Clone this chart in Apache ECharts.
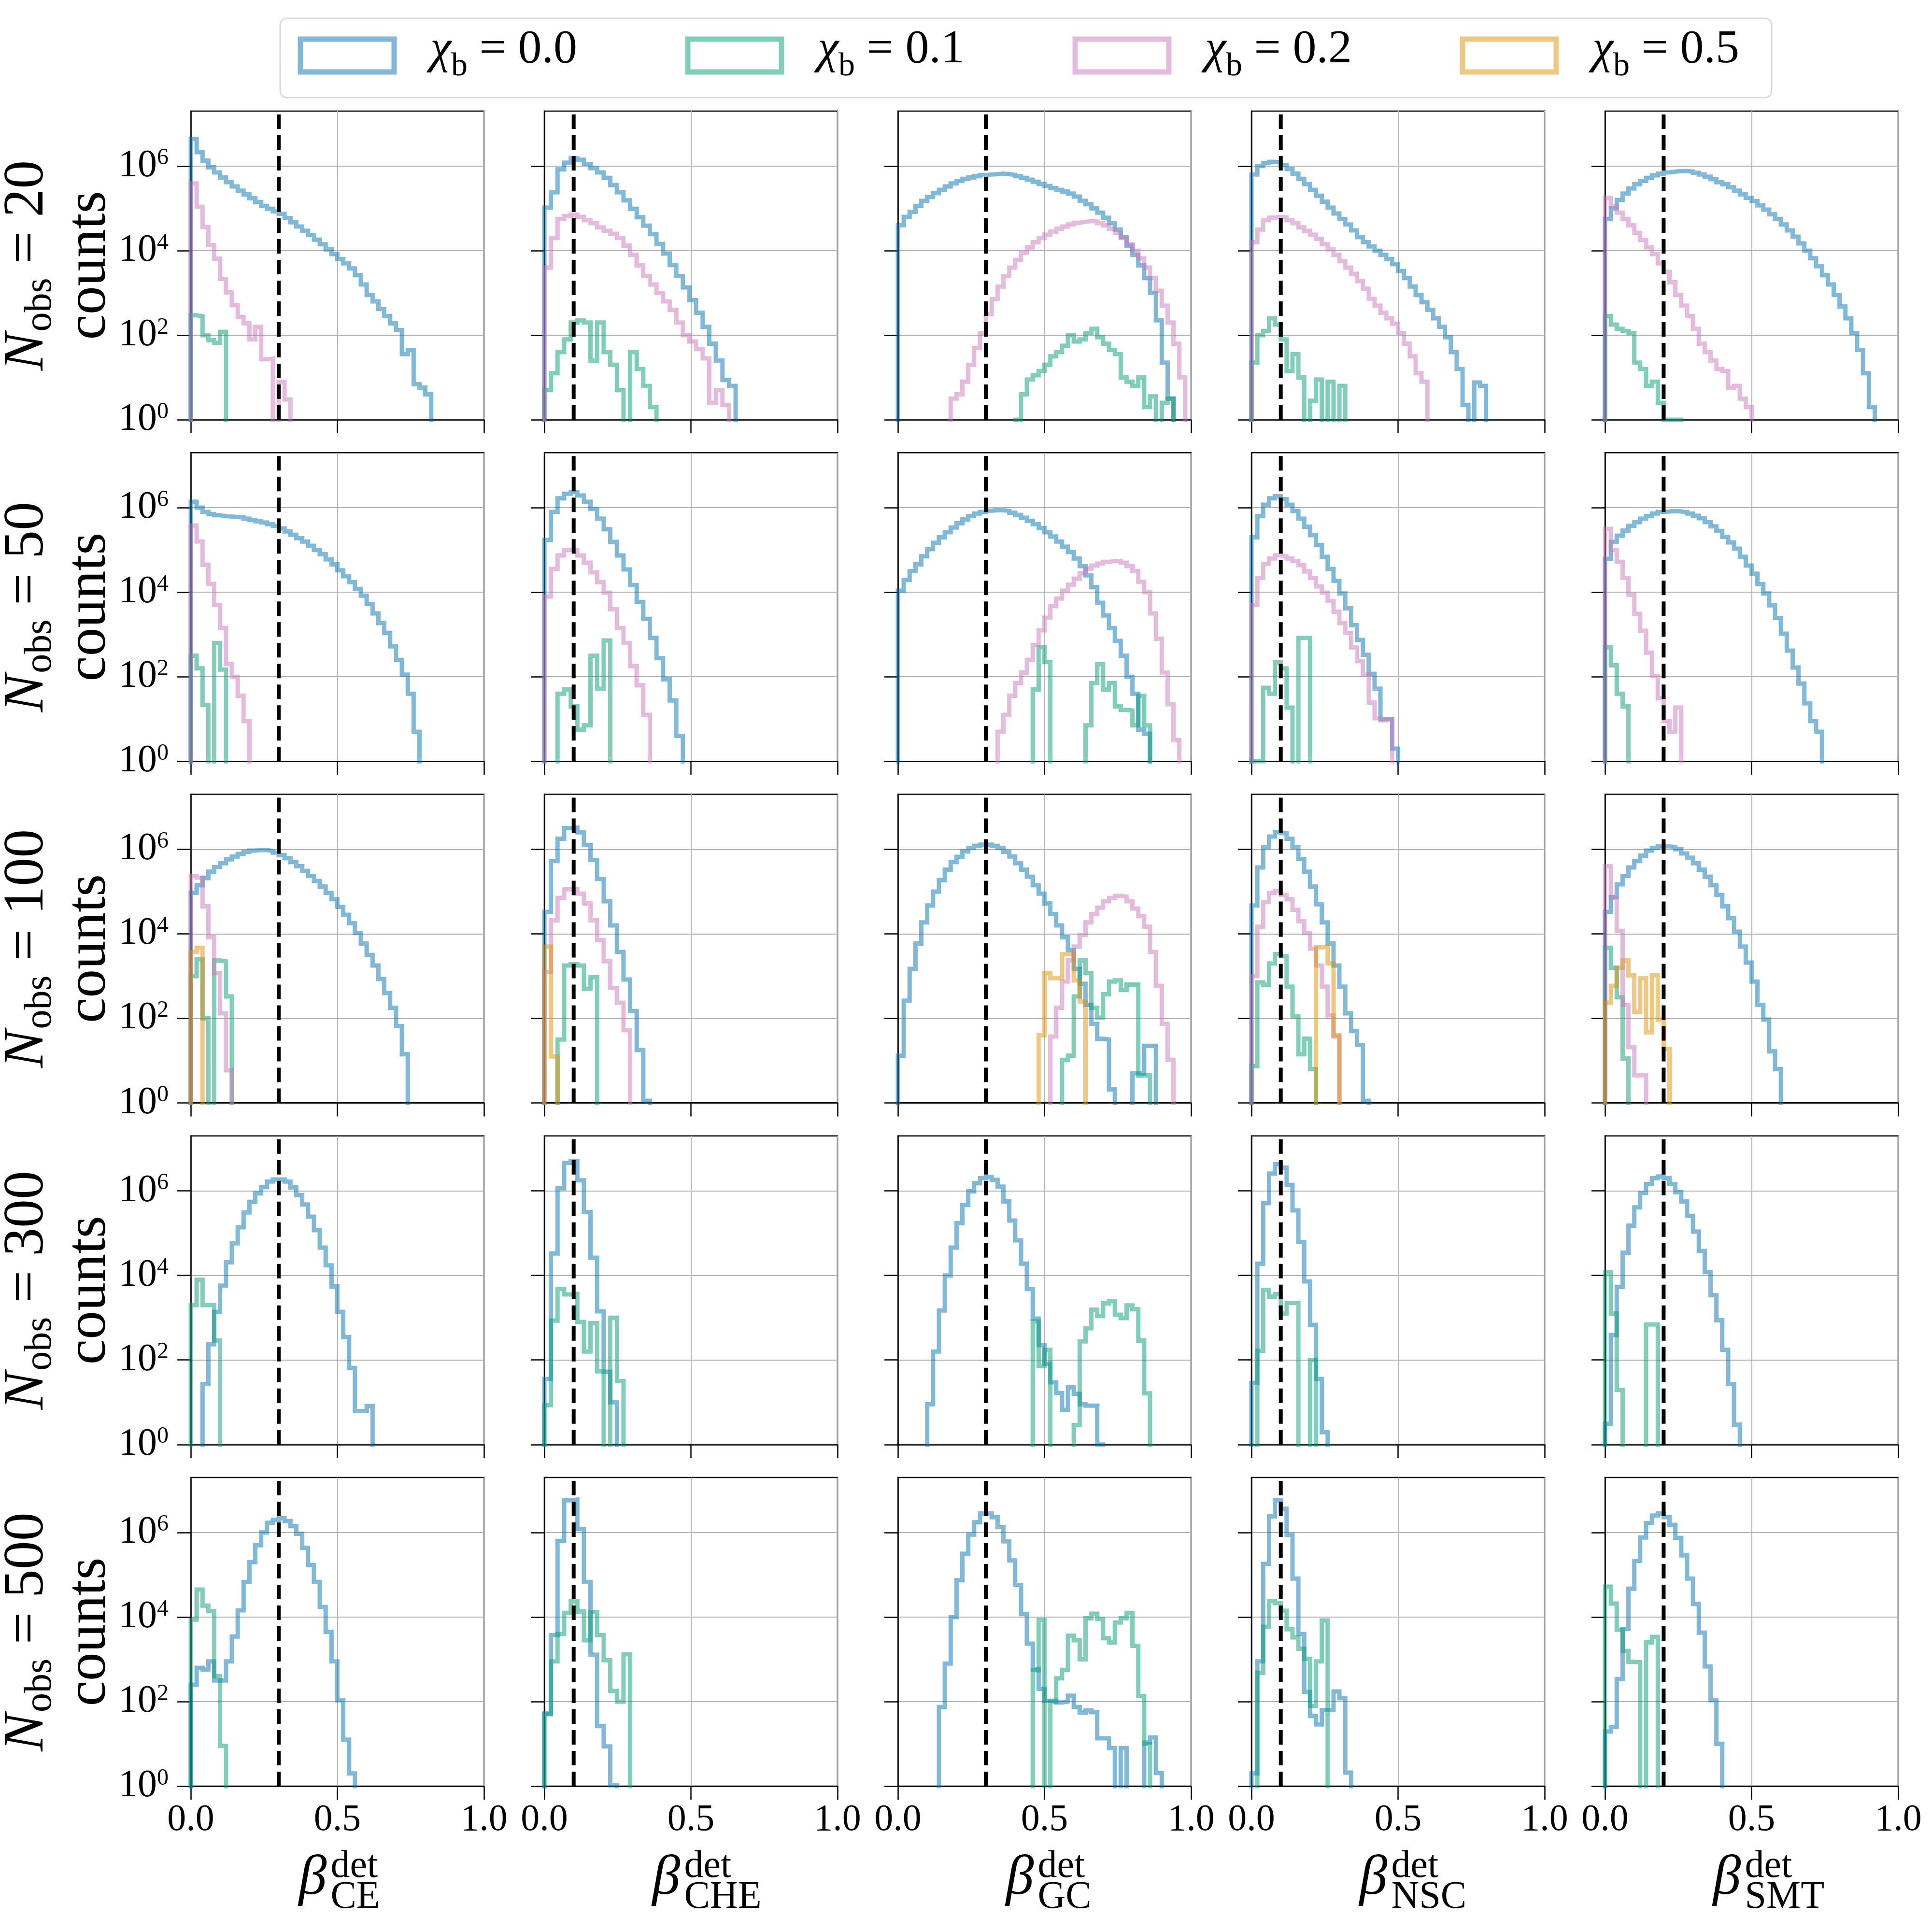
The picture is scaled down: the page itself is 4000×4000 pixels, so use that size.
<!DOCTYPE html>
<html>
<head>
<meta charset="utf-8"/>
<title>beta_det histograms</title>
<script src="https://cdn.jsdelivr.net/npm/echarts@6/dist/echarts.min.js"></script>
<style>
    html, body { margin: 0; padding: 0; background: #fff; }
    #main { width: 4000px; height: 4000px; }
</style>
</head>
<body>
<div id="main"></div>
<script type="text/javascript">
    // log10(counts) per bin, bin k covers [k*w, (k+1)*w]; _ = empty bin
    var _ = null;

    var detectors = ['CE', 'CHE', 'GC', 'NSC', 'SMT'];
    var nObs = [20, 50, 100, 300, 500];
    var chiValues = ['0.0', '0.1', '0.2', '0.5'];
    var trueBeta = [0.3, 0.1, 0.3, 0.1, 0.2];
    var binWidth = [0.02, 0.0225, 0.02, 0.02, 0.02];
    var yTicks = [1, 1e2, 1e4, 1e6];

    // N_obs = 20
    var ce20_x0 = [6.64, 6.33, 6.13, 5.97, 5.85, 5.73, 5.62, 5.52, 5.42, 5.33, 5.24, 5.15, 5.06, 4.99, 4.93, 4.87, 4.77, 4.67, 4.57, 4.47, 4.37, 4.26, 4.15, 4.03, 3.92, 3.80, 3.70, 3.58, 3.42, 3.20, 2.95, 2.80, 2.62, 2.45, 2.28, 2.12, 1.55, 1.65, 0.84, 0.76, 0.60];
    var ce20_x1 = [2.47, 2.45, 2.0, 1.88, 1.82, 2.08];
    var ce20_x2 = [5.59, 5.04, 4.56, 4.13, 3.81, 3.33, 3.01, 2.71, 2.43, 2.28, 1.9, 2.2, 1.43, 1.45, _, 0.9, 0.48];
    var che20_x0 = [5.02, 5.38, 5.92, 6.08, 6.18, 6.15, 6.05, 5.95, 5.85, 5.72, 5.55, 5.38, 5.19, 4.99, 4.79, 4.59, 4.39, 4.16, 3.93, 3.66, 3.40, 3.13, 2.83, 2.53, 2.20, 1.80, 1.40, 0.94, 0.80];
    var che20_x1 = [0.7, 1.1, 1.6, 1.9, 2.3, 2.35, 2.3, 1.4, 2.3, 1.6, 1.3, 0.7, _, 1.6, 1.2, 0.8, 0.3];
    var che20_x2 = [3.6, 4.3, 4.75, 4.82, 4.85, 4.8, 4.72, 4.65, 4.55, 4.47, 4.4, 4.3, 4.12, 3.9, 3.65, 3.4, 3.2, 3.0, 2.8, 2.6, 2.3, 2.0, 1.85, 1.67, 1.45, 0.4, 0.7, 0.35];
    var gc20_x0 = [4.6, 4.8, 4.92, 5.06, 5.18, 5.27, 5.36, 5.44, 5.52, 5.59, 5.65, 5.7, 5.73, 5.76, 5.79, 5.8, 5.81, 5.82, 5.81, 5.79, 5.76, 5.72, 5.68, 5.63, 5.58, 5.53, 5.48, 5.44, 5.4, 5.35, 5.28, 5.18, 5.1, 5.0, 4.9, 4.78, 4.65, 4.5, 4.32, 4.12, 3.9, 3.65, 3.35, 3.0, 2.35, 1.35, 0.5];
    var gc20_x1 = [_, _, _, _, _, _, _, _, _, _, _, _, _, _, _, _, _, _, _, _, 0.0, 0.6, 0.95, 1.05, 1.15, 1.3, 1.5, 1.6, 1.75, 2.0, 1.85, 1.9, 2.05, 2.15, 1.95, 1.8, 1.65, 1.55, 1.0, 0.9, 0.8, 1.0, 0.3, 0.55, _, 0.4, 0.5];
    var gc20_x2 = [_, _, _, _, _, _, _, _, _, 0.5, 0.6, 0.9, 1.3, 1.7, 2.05, 2.5, 2.85, 3.15, 3.4, 3.6, 3.78, 3.95, 4.08, 4.2, 4.3, 4.38, 4.45, 4.52, 4.57, 4.62, 4.66, 4.68, 4.7, 4.69, 4.65, 4.6, 4.52, 4.42, 4.3, 4.15, 4.0, 3.82, 3.6, 3.35, 3.05, 2.7, 2.3, 1.8, 1.0];
    var nsc20_x0 = [5.8, 6.0, 6.07, 6.1, 6.08, 6.02, 5.93, 5.82, 5.7, 5.57, 5.44, 5.3, 5.16, 5.02, 4.88, 4.75, 4.62, 4.48, 4.32, 4.2, 4.1, 4.0, 3.9, 3.8, 3.68, 3.52, 3.35, 3.15, 2.95, 2.78, 2.6, 2.4, 2.2, 1.95, 1.6, 1.2, 0.35, _, 0.88, 0.8];
    var nsc20_x1 = [1.35, 2.0, 2.1, 2.4, 2.25, 1.9, 1.15, 1.55, 1.0, _, 0.45, 0.95, _, 0.9, _, 0.8];
    var nsc20_x2 = [4.2, 4.5, 4.72, 4.78, 4.8, 4.79, 4.72, 4.65, 4.55, 4.47, 4.38, 4.28, 4.15, 4.03, 3.9, 3.75, 3.6, 3.45, 3.28, 3.1, 2.86, 2.7, 2.53, 2.4, 2.27, 2.05, 1.8, 1.5, 1.1, 0.9];
    var smt20_x0 = [4.75, 5.0, 5.2, 5.35, 5.47, 5.57, 5.65, 5.72, 5.78, 5.82, 5.85, 5.87, 5.88, 5.88, 5.87, 5.84, 5.8, 5.75, 5.69, 5.62, 5.57, 5.5, 5.42, 5.33, 5.25, 5.17, 5.07, 4.97, 4.86, 4.75, 4.62, 4.48, 4.33, 4.17, 4.0, 3.82, 3.63, 3.42, 3.2, 2.95, 2.68, 2.4, 2.05, 1.65, 1.1, 0.3];
    var smt20_x1 = [2.45, 2.25, 2.15, 2.1, 2.05, 1.35, 1.2, 0.8, 0.9, 0.4, 0, 0, 0];
    var smt20_x2 = [5.25, 5.05, 4.9, 4.75, 4.6, 4.42, 4.25, 4.08, 3.92, 3.7, 3.5, 3.25, 2.95, 2.7, 2.45, 2.15, 1.8, 1.6, 1.4, 1.2, 1.15, 0.75, 0.8, 0.5, 0.3];

    // N_obs = 50
    var ce50_x0 = [6.14, 6.0, 5.9, 5.85, 5.82, 5.8, 5.79, 5.78, 5.77, 5.74, 5.71, 5.68, 5.65, 5.61, 5.57, 5.51, 5.44, 5.36, 5.28, 5.2, 5.1, 5.0, 4.9, 4.78, 4.66, 4.52, 4.38, 4.24, 4.08, 3.92, 3.72, 3.5, 3.27, 3.04, 2.72, 2.4, 2.05, 1.6, 0.7];
    var ce50_x1 = [2.5, 2.2, 1.33, _, 2.8, 2.17];
    var ce50_x2 = [5.58, 5.2, 4.65, 4.2, 3.7, 3.15, 2.3, 2.0, 1.55, 0.95];
    var che50_x0 = [5.24, 5.9, 6.22, 6.33, 6.37, 6.29, 6.14, 5.97, 5.74, 5.49, 5.19, 4.87, 4.54, 4.17, 3.77, 3.37, 2.92, 2.44, 1.94, 1.44, 0.6];
    var che50_x1 = [_, _, 1.6, 1.7, 1.3, 0.75, 0.85, 2.5, 1.72, 2.86];
    var che50_x2 = [3.9, 4.55, 4.87, 5.0, 4.99, 4.87, 4.7, 4.47, 4.24, 3.99, 3.6, 3.15, 2.8, 2.25, 1.8, 1.1];
    var gc50_x0 = [4.04, 4.29, 4.5, 4.66, 4.85, 5.02, 5.17, 5.3, 5.42, 5.53, 5.63, 5.72, 5.8, 5.86, 5.9, 5.93, 5.94, 5.94, 5.92, 5.88, 5.83, 5.76, 5.69, 5.61, 5.52, 5.42, 5.32, 5.2, 5.08, 4.95, 4.8, 4.62, 4.4, 4.12, 3.75, 3.45, 3.15, 2.85, 2.5, 2.0, 1.6, 0.75, 0.65];
    var gc50_x1 = [_, _, _, _, _, _, _, _, _, _, _, _, _, _, _, _, _, _, _, _, _, _, _, 1.7, 2.7, 2.35, _, _, _, _, _, _, 0.85, 1.85, 2.3, 1.7, 1.85, 1.3, 1.22, 1.2, 0.85, 1.55, 0.85];
    var gc50_x2 = [_, _, _, _, _, _, _, _, _, _, _, _, _, _, _, _, _, 0.7, 1.1, 1.55, 1.85, 2.1, 2.4, 2.75, 3.1, 3.4, 3.67, 3.85, 4.04, 4.18, 4.32, 4.45, 4.56, 4.63, 4.68, 4.72, 4.74, 4.74, 4.7, 4.62, 4.5, 4.25, 4.0, 3.5, 2.9, 2.1, 1.35, 0.5];
    var nsc50_x0 = [5.3, 5.8, 6.07, 6.22, 6.27, 6.2, 6.07, 5.92, 5.74, 5.55, 5.35, 5.12, 4.84, 4.55, 4.27, 3.97, 3.62, 3.22, 2.87, 2.52, 2.07, 1.72, 1.0, 1.0, 0.3];
    var nsc50_x1 = [0, 0, 1.74, 1.6, 2.34, 2.2, 1.27, _, 2.92, 2.92];
    var nsc50_x2 = [3.7, 4.34, 4.67, 4.8, 4.87, 4.85, 4.8, 4.74, 4.64, 4.49, 4.34, 4.14, 3.99, 3.79, 3.54, 3.27, 3.04, 2.69, 2.37, 2.05, 1.39, 1.02, 0.97, 1.0];
    var smt50_x0 = [4.79, 5.19, 5.34, 5.46, 5.57, 5.66, 5.74, 5.8, 5.86, 5.9, 5.91, 5.92, 5.91, 5.9, 5.86, 5.81, 5.75, 5.66, 5.56, 5.45, 5.31, 5.18, 5.03, 4.84, 4.63, 4.44, 4.19, 3.97, 3.69, 3.39, 3.02, 2.62, 2.22, 1.84, 1.37, 0.95, 0.7];
    var smt50_x1 = [2.7, 2.27, 1.6, 1.3];
    var smt50_x2 = [5.5, 5.0, 4.72, 4.34, 3.94, 3.49, 3.09, 2.57, 2.02, 1.49, 0.95, 0.7, 1.27];

    // N_obs = 100
    var ce100_x0 = [4.97, 5.15, 5.32, 5.47, 5.58, 5.67, 5.76, 5.83, 5.89, 5.94, 5.97, 5.98, 5.98, 5.96, 5.92, 5.86, 5.79, 5.7, 5.6, 5.49, 5.37, 5.25, 5.12, 4.97, 4.82, 4.64, 4.45, 4.25, 4.02, 3.77, 3.5, 3.25, 2.93, 2.6, 2.25, 1.82, 1.15];
    var ce100_x1 = [3.0, 3.4, 2.0, _, 3.37, 3.35, 2.52];
    var ce100_x2 = [5.37, 5.33, 4.65, 3.92, 3.07, 2.12, 0.77];
    var ce100_x5 = [3.57, 3.67];
    var che100_x0 = [4.52, 5.72, 6.25, 6.5, 6.51, 6.4, 6.1, 5.75, 5.3, 4.77, 4.2, 3.57, 2.92, 2.17, 1.25, 0.05];
    var che100_x1 = [_, _, 1.5, 3.25, 3.28, 3.25, 2.7, 2.97];
    var che100_x2 = [3.1, 4.32, 4.85, 5.05, 5.05, 4.95, 4.72, 4.32, 3.85, 3.35, 2.72, 2.37, 1.72];
    var che100_x5 = [3.7, 1.1];
    var gc100_x0 = [1.12, 2.42, 3.17, 3.77, 4.27, 4.67, 5.0, 5.27, 5.52, 5.7, 5.82, 5.95, 6.03, 6.08, 6.11, 6.11, 6.08, 6.03, 5.94, 5.83, 5.67, 5.52, 5.35, 5.15, 4.95, 4.72, 4.47, 4.2, 3.92, 3.62, 3.17, 2.82, 2.32, 1.87, 1.52, 1.5, 0.32, _, _, _, 0.7, 0.7, 1.35, 1.35];
    var gc100_x1 = [_, _, _, _, _, _, _, _, _, _, _, _, _, _, _, _, _, _, _, _, _, _, _, _, _, _, _, _, 1.02, 1.12, 2.52, 3.37, 3.07, 2.25, 2.02, 2.57, 2.87, 2.9, 2.67, 2.8, 2.8, 0.65, 0.65];
    var gc100_x2 = [_, _, _, _, _, _, _, _, _, _, _, _, _, _, _, _, _, _, _, _, _, _, _, _, _, _, 1.57, 2.25, 2.87, 3.37, 3.7, 3.97, 4.27, 4.47, 4.62, 4.77, 4.85, 4.9, 4.88, 4.77, 4.6, 4.42, 4.17, 3.57, 2.77, 1.87, 1.02];
    var gc100_x5 = [_, _, _, _, _, _, _, _, _, _, _, _, _, _, _, _, _, _, _, _, _, _, _, _, 1.6, 3.07, 2.95, 2.95, 3.52, 3.52, 2.9, 2.4];
    var nsc100_x0 = [4.67, 5.57, 6.05, 6.3, 6.41, 6.38, 6.25, 6.05, 5.77, 5.47, 5.12, 4.7, 4.27, 3.77, 3.25, 2.75, 2.12, 1.7, 1.37, 0.05];
    var nsc100_x1 = [0.87, 2.85, 2.8, 3.3, 3.52, 3.47, 2.75, 2.05, 1.15, 1.52, 0.8];
    var nsc100_x2 = [3.0, 4.17, 4.75, 4.97, 5.02, 4.92, 4.82, 4.57, 4.3, 4.02, 3.65, 3.25, 2.75, 2.07, 1.57];
    var nsc100_x5 = [_, _, _, _, _, _, _, _, _, _, _, 3.68, 3.7, 3.3, 1.6];
    var smt100_x0 = [4.52, 4.87, 5.17, 5.37, 5.57, 5.72, 5.85, 5.97, 6.03, 6.07, 6.07, 6.05, 6.0, 5.9, 5.8, 5.67, 5.52, 5.35, 5.15, 4.92, 4.65, 4.37, 4.05, 3.7, 3.32, 2.87, 2.32, 1.97, 1.22, 0.8];
    var smt100_x1 = [3.67, 3.2, 2.5, 1.05];
    var smt100_x2 = [5.6, 4.85, 4.07, 2.32, 1.32, 0.65, 0.65];
    var smt100_x5 = [2.37, 2.77, 3.2, 3.37, 3.02, 2.15, 2.95, 1.67, 3.02, 1.97, 1.27];

    // N_obs = 300
    var ce300_x0 = [_, _, 1.43, 2.37, 3.14, 3.76, 4.31, 4.76, 5.14, 5.49, 5.74, 5.94, 6.09, 6.22, 6.27, 6.27, 6.22, 6.08, 5.9, 5.68, 5.39, 5.07, 4.66, 4.24, 3.74, 3.14, 2.54, 1.81, 0.79, 0.79, 0.91];
    var ce300_x1 = [3.3, 3.9, 3.3, 3.3, 2.46];
    var che300_x0 = [1.55, 4.52, 6.06, 6.66, 6.7, 6.25, 5.5, 4.42, 3.15, 1.72, 1.0];
    var che300_x1 = [0.93, 2.93, 3.68, 3.55, 3.56, 2.9, 2.2, 2.87, 1.73, _, 3.0, 1.5];
    var gc300_x0 = [_, _, _, _, _, 0.95, 2.2, 3.17, 4.0, 4.66, 5.24, 5.67, 5.99, 6.18, 6.3, 6.33, 6.26, 6.1, 5.75, 5.3, 4.83, 4.28, 3.68, 2.98, 2.35, 1.91, 1.47, 1.22, 0.82, 1.35, 1.2, 0.95, 0.92, 0.92, 0];
    var gc300_x1 = [_, _, _, _, _, _, _, _, _, _, _, _, _, _, _, _, _, _, _, _, _, _, _, 2.91, 1.86, 2.24, _, _, _, _, 0.46, 2.44, 2.75, 3.19, 3.04, 3.34, 3.39, 3.07, 2.99, 3.29, 3.2, 2.46, 1.21];
    var nsc300_x0 = [1.46, 4.28, 5.71, 6.41, 6.63, 6.55, 6.14, 5.54, 4.79, 3.86, 2.83, 1.55, 0.29];
    var nsc300_x1 = [_, 2.22, 3.66, 3.5, 3.56, 3.1, 3.35, 3.35, _, _, 2.0];
    var smt300_x0 = [0.49, 2.59, 3.73, 4.54, 5.18, 5.61, 5.95, 6.16, 6.3, 6.34, 6.3, 6.16, 5.97, 5.75, 5.41, 5.04, 4.58, 4.08, 3.53, 2.94, 2.24, 1.43, 0.47];
    var smt300_x1 = [4.07, 3.1, 1.29, _, _, _, _, 2.84, 2.84];

    // N_obs = 500
    var ce500_x0 = [2.4, 2.8, 2.76, 2.95, 2.5, 2.5, 2.95, 3.54, 4.16, 4.83, 5.3, 5.7, 6.0, 6.23, 6.3, 6.34, 6.27, 6.15, 5.97, 5.64, 5.23, 4.83, 4.24, 3.65, 2.95, 2.03, 1.1, 0.3];
    var ce500_x1 = [3.94, 4.65, 4.27, 4.14, 2.6, 0.95];
    var che500_x0 = [1.72, 3.57, 5.8, 6.76, 6.78, 6.08, 4.83, 3.11, 1.42, 0.94, 0.02];
    var che500_x1 = [1.7, 2.95, 3.6, 4.1, 4.37, 4.13, 3.45, 4.12, 3.57, 2.98, 2.25, 2.0, 3.12];
    var gc500_x0 = [_, _, _, _, _, _, _, 1.87, 2.9, 4.0, 4.87, 5.5, 5.95, 6.24, 6.45, 6.45, 6.36, 6.13, 5.79, 5.34, 4.76, 4.07, 3.37, 2.76, 2.3, 2.02, 2.02, 1.98, 2.0, 2.14, 1.87, 1.74, 1.79, 1.75, 1.13, 1.13, 0.9, _, 0.9, _, _, _, 1.03, 1.15, 0.31];
    var gc500_x1 = [_, _, _, _, _, _, _, _, _, _, _, _, _, _, _, _, _, _, _, _, _, _, _, 2.74, 3.93, _, 2.0, 2.55, 2.75, 3.56, 3.45, 3.0, 3.97, 4.08, 3.95, 3.5, 3.4, 3.87, 3.97, 4.1, 3.32, 2.13, 1.0];
    var nsc500_x0 = [0.3, 2.95, 5.26, 6.38, 6.76, 6.56, 5.94, 4.91, 3.6, 2.23, 1.66, 1.46, 1.8, 1.8, 2.24, 2.08, 0.32];
    var nsc500_x1 = [_, 2.68, 3.77, 4.38, 4.33, 4.15, 3.71, 3.52, 3.25, 3.01, 1.9, 2.95, 3.92];
    var smt500_x0 = [1.29, 1.4, 2.53, 3.72, 4.67, 5.33, 5.88, 6.22, 6.4, 6.45, 6.36, 6.18, 5.87, 5.46, 4.91, 4.31, 3.63, 2.83, 2.03, 1.0];
    var smt500_x1 = [4.72, 4.32, 3.7, 3.2, 2.94, 2.93, _, 3.4, 3.53];

    // rows = N_obs, cols = detector, entries = chi_b 0.0 / 0.1 / 0.2 / 0.5
    var histData = [
        [[ce20_x0, ce20_x1, ce20_x2, null], [che20_x0, che20_x1, che20_x2, null], [gc20_x0, gc20_x1, gc20_x2, null], [nsc20_x0, nsc20_x1, nsc20_x2, null], [smt20_x0, smt20_x1, smt20_x2, null]],
        [[ce50_x0, ce50_x1, ce50_x2, null], [che50_x0, che50_x1, che50_x2, null], [gc50_x0, gc50_x1, gc50_x2, null], [nsc50_x0, nsc50_x1, nsc50_x2, null], [smt50_x0, smt50_x1, smt50_x2, null]],
        [[ce100_x0, ce100_x1, ce100_x2, ce100_x5], [che100_x0, che100_x1, che100_x2, che100_x5], [gc100_x0, gc100_x1, gc100_x2, gc100_x5], [nsc100_x0, nsc100_x1, nsc100_x2, nsc100_x5], [smt100_x0, smt100_x1, smt100_x2, smt100_x5]],
        [[ce300_x0, ce300_x1, null, null], [che300_x0, che300_x1, null, null], [gc300_x0, gc300_x1, null, null], [nsc300_x0, nsc300_x1, null, null], [smt300_x0, smt300_x1, null, null]],
        [[ce500_x0, ce500_x1, null, null], [che500_x0, che500_x1, null, null], [gc500_x0, gc500_x1, null, null], [nsc500_x0, nsc500_x1, null, null], [smt500_x0, smt500_x1, null, null]]
    ];

    var SERIF = "'Liberation Serif', 'DejaVu Serif', serif";
    var lineColors = ['rgba(1,115,178,0.5)', 'rgba(2,158,115,0.5)', 'rgba(204,120,188,0.5)', 'rgba(222,143,5,0.5)'];
    var patchColors = ['#80b9d8', '#80ceb9', '#e5bbdd', '#eec782'];
    var seriesNames = chiValues.map(function (v) { return 'χb = ' + v; });

    var yMin = 1, yMax = 2e7, FLOOR = 0.1;
    var colLeft0 = 395, colPitch = 732, panelW = 607;
    var rowTop0 = 230, rowPitch = 707.25, panelH = 639;

    // histtype='step' outline: rise at first edge, flat per bin, drop after last bin
    function stepData(logCounts, w) {
        var s = 0, e = logCounts.length - 1;
        while (logCounts[s] === null) s++;
        while (logCounts[e] === null) e--;
        var pts = [[s * w, FLOOR]];
        for (var i = s; i <= e; i++) {
            pts.push([i * w, logCounts[i] === null ? FLOOR : Math.pow(10, logCounts[i])]);
        }
        pts.push([(e + 1) * w, FLOOR]);
        return pts;
    }

    var grids = [], xAxes = [], yAxes = [], series = [], graphics = [];

    nObs.forEach(function (n, r) {
        detectors.forEach(function (det, c) {
            var gi = r * detectors.length + c;
            grids.push({
                left: colLeft0 + c * colPitch, top: rowTop0 + r * rowPitch,
                width: panelW, height: panelH,
                show: true, borderColor: '#000', borderWidth: 2.5,
                containLabel: false, outerBoundsMode: 'none'
            });
            xAxes.push({
                gridIndex: gi, type: 'value', min: 0, max: 1, interval: 0.5,
                axisLine: { show: true, onZero: false, lineStyle: { color: '#000', width: 2.5 } },
                axisTick: { show: true, inside: false, length: 28, lineStyle: { color: '#000', width: 2.5 } },
                axisLabel: {
                    show: r === nObs.length - 1, margin: 32, color: '#000',
                    fontFamily: SERIF, fontSize: 78,
                    formatter: function (v) { return v.toFixed(1); }
                },
                splitLine: { show: true, lineStyle: { color: '#b0b0b0', width: 1.8 } }
            });
            yAxes.push({
                gridIndex: gi, type: 'log', logBase: 100, min: yMin, max: yMax, interval: 1,
                axisLine: { show: true, lineStyle: { color: '#000', width: 2.5 } },
                axisTick: { show: true, inside: false, length: 28, customValues: yTicks, lineStyle: { color: '#000', width: 2.5 } },
                axisLabel: {
                    show: c === 0, margin: 46, color: '#000',
                    formatter: function (v) {
                        var l = Math.log10(v), e = Math.round(l);
                        if (Math.abs(l - e) > 1e-6) return '';
                        return '{b|10}{s|' + e + '}';
                    },
                    rich: {
                        b: { fontFamily: SERIF, fontSize: 80, color: '#000' },
                        s: { fontFamily: SERIF, fontSize: 48, color: '#000', padding: [0, 0, 32, 0] }
                    }
                },
                splitLine: { show: true, lineStyle: { color: '#b0b0b0', width: 1.8 } }
            });

            histData[r][c].forEach(function (arr, k) {
                if (!arr) return;
                series.push({
                    type: 'line', name: seriesNames[k],
                    xAxisIndex: gi, yAxisIndex: gi,
                    data: stepData(arr, binWidth[c]),
                    step: 'end', symbol: 'none', showSymbol: false, clip: true,
                    lineStyle: { color: lineColors[k], width: 9, join: 'miter', cap: 'butt' },
                    itemStyle: { color: patchColors[k] },
                    emphasis: { disabled: true }, silent: true, animation: false, z: 2
                });
            });
            // true value
            series.push({
                type: 'line', xAxisIndex: gi, yAxisIndex: gi,
                data: [[trueBeta[c], yMin], [trueBeta[c], yMax]],
                symbol: 'none', showSymbol: false,
                lineStyle: { color: '#000', width: 8, type: [30, 13] },
                emphasis: { disabled: true }, silent: true, animation: false, z: 3
            });
        });
    });

    // row labels
    nObs.forEach(function (n, r) {
        var cy = rowTop0 + r * rowPitch + panelH / 2;
        graphics.push({
            type: 'text', x: 57, y: cy, rotation: Math.PI / 2,
            style: {
                text: '{n|N}{s|obs}{t| = ' + n + '}', align: 'center', verticalAlign: 'middle',
                fill: '#000', fontFamily: SERIF, fontSize: 118,
                rich: {
                    n: { fontFamily: SERIF, fontSize: 118, fontStyle: 'italic', fill: '#000' },
                    s: { fontFamily: SERIF, fontSize: 80, fill: '#000', padding: [53, 0, 0, 2] },
                    t: { fontFamily: SERIF, fontSize: 118, fill: '#000' }
                }
            }
        });
        graphics.push({
            type: 'text', x: 186, y: cy, rotation: Math.PI / 2,
            style: { text: 'counts', align: 'center', verticalAlign: 'middle', fill: '#000', fontFamily: SERIF, fontSize: 118 }
        });
    });

    // column labels beta^det_X
    var bottom = rowTop0 + (nObs.length - 1) * rowPitch + panelH;
    detectors.forEach(function (det, c) {
        var cx = colLeft0 + c * colPitch + panelW / 2;
        graphics.push({
            type: 'text', x: cx - 80, y: bottom + 192,
            style: { text: 'β', align: 'left', verticalAlign: 'middle', fill: '#000', fontFamily: SERIF, fontSize: 116, fontStyle: 'italic' }
        });
        graphics.push({
            type: 'text', x: cx - 14, y: bottom + 167,
            style: { text: 'det', align: 'left', verticalAlign: 'middle', fill: '#000', fontFamily: SERIF, fontSize: 80 }
        });
        graphics.push({
            type: 'text', x: cx - 14, y: bottom + 231,
            style: { text: det, align: 'left', verticalAlign: 'middle', fill: '#000', fontFamily: SERIF, fontSize: 80 }
        });
    });

    // legend frame
    graphics.push({
        type: 'rect', z: 0,
        shape: { x: 580, y: 38, width: 3088, height: 164, r: 14 },
        style: { fill: '#fff', stroke: '#d9d9d9', lineWidth: 3 }
    });

    var legends = seriesNames.map(function (name, k) {
        return {
            left: 611 + 802 * k + 5.5, top: 54, padding: 0,
            orient: 'horizontal', selectedMode: false,
            itemWidth: 194, itemHeight: 68, itemGap: 0,
            data: [{ name: name, icon: 'rect', itemStyle: { color: '#fff', borderColor: patchColors[k], borderWidth: 11, opacity: 1 } }],
            formatter: function () {
                return '{c|χ}{s|b}{t| = ' + chiValues[k] + '}';
            },
            textStyle: {
                color: '#000', fontFamily: SERIF, fontSize: 98, lineHeight: 40,
                rich: {
                    c: { fontFamily: SERIF, fontSize: 98, fontStyle: 'italic', color: '#000', lineHeight: 40, padding: [0, 0, 24, 70] },
                    s: { fontFamily: SERIF, fontSize: 68, color: '#000', lineHeight: 20, padding: [46, 0, 0, 0] },
                    t: { fontFamily: SERIF, fontSize: 98, color: '#000', lineHeight: 40, padding: [0, 0, 24, 0] }
                }
            },
            z: 5
        };
    });

    var myChart = echarts.init(document.getElementById('main'), null, { renderer: 'canvas', width: 4000, height: 4000 });
    myChart.setOption({
        backgroundColor: '#fff',
        animation: false,
        grid: grids,
        xAxis: xAxes,
        yAxis: yAxes,
        legend: legends,
        graphic: { elements: graphics },
        series: series
    });
</script>
</body>
</html>
